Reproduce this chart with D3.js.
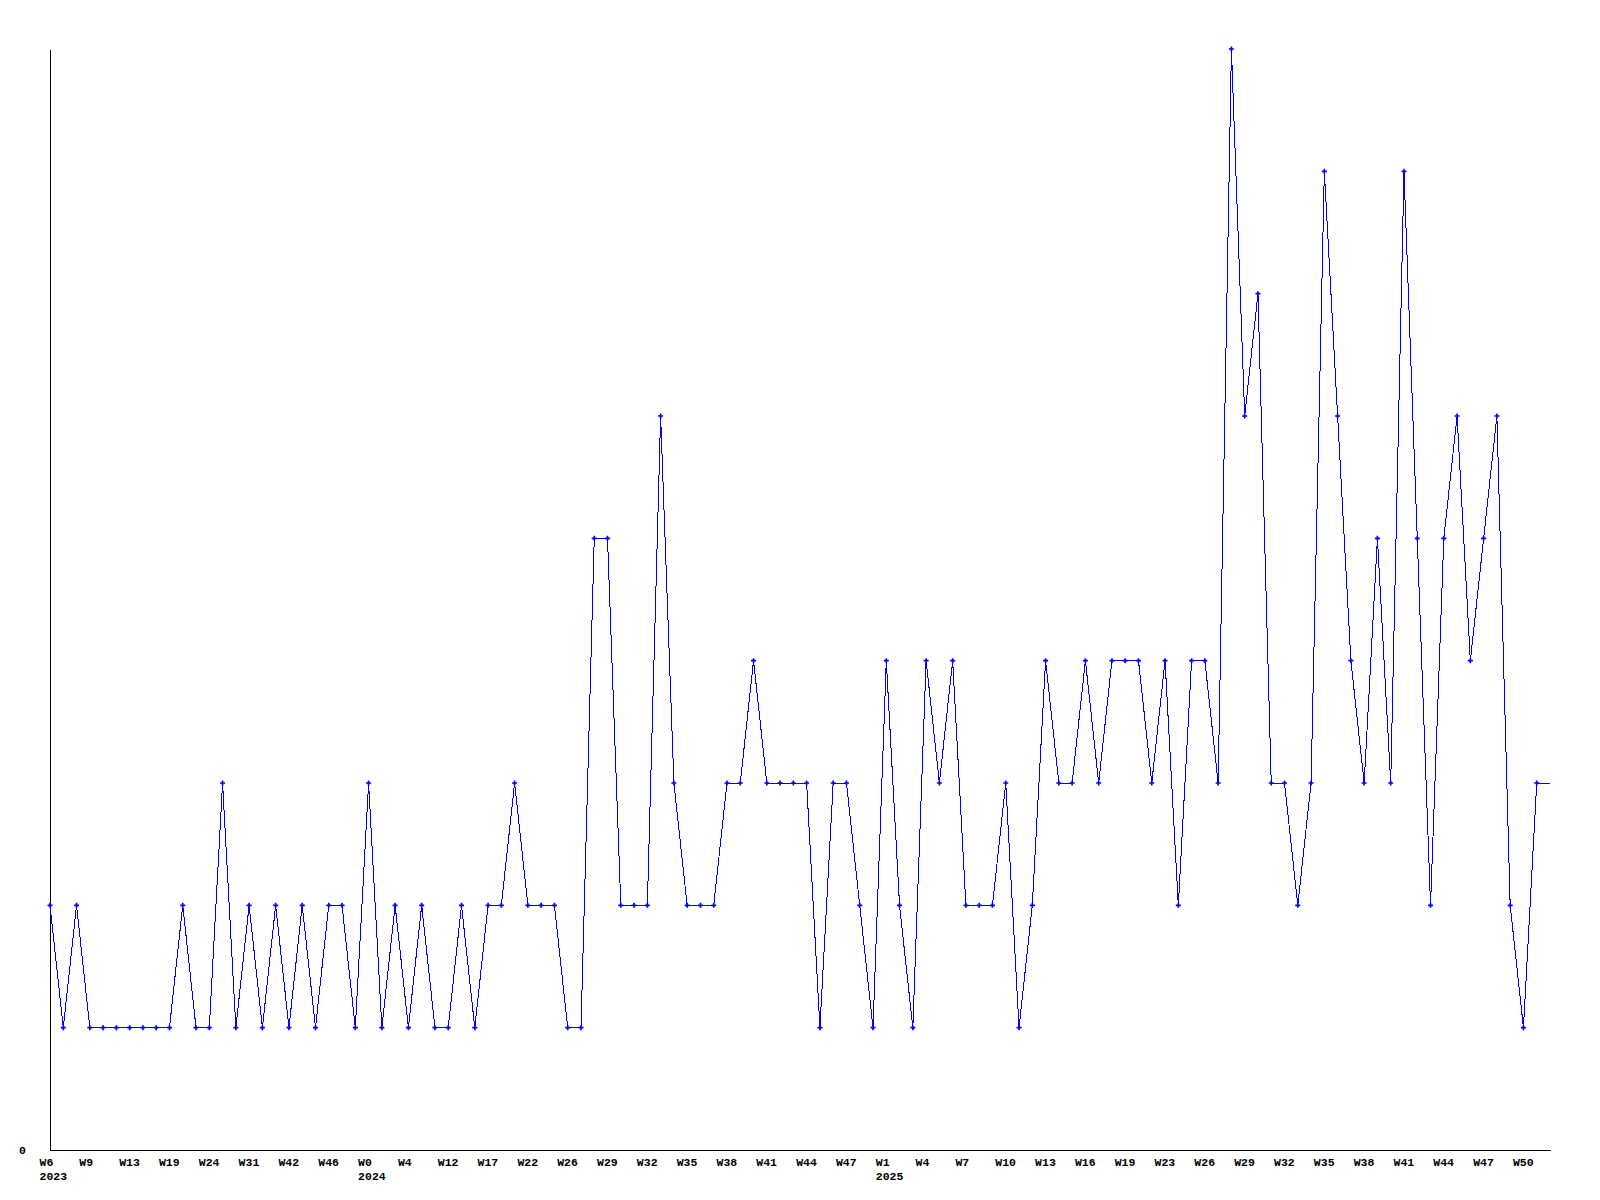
<!DOCTYPE html>
<html>
<head>
<meta charset="utf-8">
<script src="https://cdn.jsdelivr.net/npm/d3@7"></script>
<style>
  body { margin: 0; background: #fff; }
  svg { display: block; }
  .tick text { font-family: "Liberation Mono", "DejaVu Sans Mono", monospace; font-weight: bold; font-size: 11.5px; fill: #000; }
</style>
</head>
<body>
<script>
// one value per week
var values = [
  2, 1, 2, 1, 1, 1, 1, 1, 1, 1, 2, 1, 1, 3, 1, 2, 1, 2, 1, 2,
  1, 2, 2, 1, 3, 1, 2, 1, 2, 1, 1, 2, 1, 2, 2, 3, 2, 2, 2, 1,
  1, 5, 5, 2, 2, 2, 6, 3, 2, 2, 2, 3, 3, 4, 3, 3, 3, 3, 1, 3,
  3, 2, 1, 4, 2, 1, 4, 3, 4, 2, 2, 2, 3, 1, 2, 4, 3, 3, 4, 3,
  4, 4, 4, 3, 4, 2, 4, 4, 3, 9, 6, 7, 3, 3, 2, 3, 8, 6, 4, 3,
  5, 3, 8, 5, 2, 5, 6, 4, 5, 6, 2, 1, 3
]

// a label on every third week
var weekLabels = [
  'W6', 'W9', 'W13', 'W19', 'W24', 'W31', 'W42', 'W46', 'W0', 'W4',
  'W12', 'W17', 'W22', 'W26', 'W29', 'W32', 'W35', 'W38', 'W41', 'W44',
  'W47', 'W1', 'W4', 'W7', 'W10', 'W13', 'W16', 'W19', 'W23', 'W26',
  'W29', 'W32', 'W35', 'W38', 'W41', 'W44', 'W47', 'W50'
]
var labelStep = 3

var yearLabels = ['2023', '2024', '2025']
var yearAtLabel = [0, 8, 21]

var yTicks = [0]

var margin = {top: 49, left: 50}
var width = 1500
var height = 1101

var svg = d3.select('body')
  .append('svg')
  .attr('width', 1600)
  .attr('height', 1200)

var g = svg.append('g')
  .attr('transform', 'translate(' + margin.left + ',' + margin.top + ')')

var x = d3.scaleLinear()
  .domain([0, values.length])
  .range([0, width])

var y = d3.scaleLinear()
  .domain([0, d3.max(values)])
  .range([height, 0])

var weekTicks = weekLabels.map(function(d, i) { return i * labelStep })

var xAxis = g.append('g')
  .attr('transform', 'translate(0,' + height + ')')
  .call(d3.axisBottom(x)
    .tickValues(weekTicks)
    .tickSize(0)
    .tickSizeOuter(0)
    .tickFormat(function(d) { return weekLabels[d / labelStep] }))

xAxis.select('.domain')
  .attr('stroke', '#000')
  .attr('shape-rendering', 'crispEdges')

xAxis.selectAll('text')
  .attr('text-anchor', 'start')
  .attr('x', -11)
  .attr('y', 15.5)
  .attr('dy', null)

var yearAxis = g.append('g')
  .attr('transform', 'translate(0,' + height + ')')
  .call(d3.axisBottom(x)
    .tickValues(yearAtLabel.map(function(d) { return d * labelStep }))
    .tickSize(0)
    .tickFormat(function(d, i) { return yearLabels[i] }))

yearAxis.select('.domain').remove()
yearAxis.selectAll('text')
  .attr('text-anchor', 'start')
  .attr('x', -11)
  .attr('y', 30)
  .attr('dy', null)

var yAxis = g.append('g')
  .call(d3.axisLeft(y)
    .tickValues(yTicks)
    .tickSize(0)
    .tickSizeOuter(0))

yAxis.select('.domain')
  .attr('stroke', '#000')
  .attr('shape-rendering', 'crispEdges')

yAxis.selectAll('text')
  .attr('text-anchor', 'start')
  .attr('x', -31)
  .attr('y', 3.5)
  .attr('dy', null)

// the line runs on to the right edge at the last value
var lineData = values.concat([values[values.length - 1]])

var line = d3.line()
  .x(function(d, i) { return x(i) })
  .y(function(d) { return y(d) })

g.append('path')
  .datum(lineData)
  .attr('d', line)
  .attr('fill', 'none')
  .attr('stroke', '#0000ff')
  .attr('stroke-width', 1)
  .attr('shape-rendering', 'crispEdges')

g.selectAll('.dot')
  .data(values)
  .enter()
  .append('path')
  .classed('dot', true)
  .attr('transform', function(d, i) { return 'translate(' + x(i) + ',' + y(d) + ')' })
  .attr('d', d3.symbol().type(d3.symbolCross).size(14))
  .attr('fill', '#0000ff')
</script>
</body>
</html>
